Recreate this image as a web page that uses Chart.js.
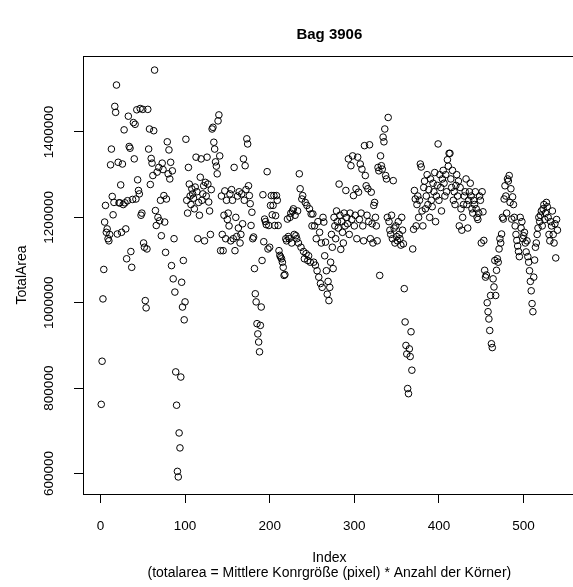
<!DOCTYPE html>
<html>
<head>
<meta charset="utf-8">
<script src="https://cdn.jsdelivr.net/npm/chart.js@4"></script>
<style>
  html, body { margin: 0; padding: 0; background: #fff; overflow: hidden; }
  canvas { display: block; }
</style>
</head>
<body>
<canvas id="chart" width="580" height="587"></canvas>
<script>
const xTicks = [0, 100, 200, 300, 400, 500];
const yTicks = [600000, 800000, 1000000, 1200000, 1400000];

// TotalArea per grain-bag index 1..540
const totalArea = [
    762000, 863000, 1009000, 1078000, 1189000, 1228000, 1165000, 1173000, 1150000, 1145000,
    1160000, 1323000, 1360000, 1249000, 1206000, 1235000, 1460000, 1446000, 1510000, 1161000,
    1329000, 1234000, 1234000, 1276000, 1165000, 1325000, 1230000, 1405000, 1234000, 1173000,
    1103000, 1239000, 1437000, 1366000, 1362000, 1120000, 1083000, 1242000, 1422000, 1337000,
    1418000, 1243000, 1452000, 1288000, 1263000, 1255000, 1455000, 1205000, 1210000, 1453000,
    1140000, 1130000, 1005000, 988000, 1126000, 1453000, 1360000, 1407000, 1277000, 1338000,
    1327000, 1298000, 1403000, 1545000, 1216000, 1181000, 1306000, 1200000, 1317000, 1192000,
    1240000, 1157000, 1327000, 1312000, 1251000, 1189000, 1118000, 1243000, 1377000, 1302000,
    1358000, 1290000, 1329000, 1087000, 1309000, 1056000, 1150000, 1025000, 838000, 760000,
    605000, 592000, 695000, 660000, 826000, 1048000, 990000, 1099000, 960000, 1002000,
    1383000, 1240000, 1210000, 1317000, 1278000, 1250000, 1230000, 1267000, 1255000, 1245000,
    1220000, 1271000, 1341000, 1260000, 1150000, 1235000, 1205000, 1294000, 1337000, 1240000,
    1255000, 1274000, 1145000, 1282000, 1250000, 1341000, 1278000, 1236000, 1215000, 1160000,
    1265000, 1407000, 1411000, 1376000, 1360000, 1330000, 1320000, 1302000, 1426000, 1440000,
    1344000, 1122000, 1250000, 1160000, 1122000, 1205000, 1262000, 1150000, 1240000, 1195000,
    1210000, 1180000, 1255000, 1145000, 1265000, 1240000, 1150000, 1317000, 1122000, 1200000,
    1155000, 1250000, 1175000, 1260000, 1140000, 1160000, 1255000, 1185000, 1337000, 1240000,
    1321000, 1265000, 1384000, 1372000, 1274000, 1251000, 1232000, 1181000, 1212000, 1150000,
    1154000, 1080000, 1021000, 1002000, 951000, 927000, 908000, 885000, 947000, 990000,
    1099000, 1253000, 1143000, 1196000, 1190000, 1183000, 1307000, 1126000, 1181000, 1130000,
    1228000, 1251000, 1206000, 1228000, 1251000, 1181000, 1204000, 1251000, 1240000, 1181000,
    1122000, 1111000, 1107000, 1103000, 1095000, 1083000, 1064000, 1066000, 1150000, 1145000,
    1196000, 1155000, 1150000, 1200000, 1210000, 1140000, 1215000, 1220000, 1160000, 1205000,
    1157000, 1150000, 1215000, 1140000, 1302000, 1267000, 1130000, 1243000, 1251000, 1120000,
    1103000, 1235000, 1115000, 1228000, 1099000, 1110000, 1220000, 1095000, 1208000, 1180000,
    1208000, 1095000, 1180000, 1088000, 1150000, 1075000, 1190000, 1060000, 1165000, 1045000,
    1140000, 1036000, 1200000, 1189000, 1110000, 1142000, 1075000, 1020000, 1050000, 1005000,
    1036000, 1095000, 1160000, 1130000, 1080000, 1200000, 1180000, 1150000, 1215000, 1190000,
    1175000, 1278000, 1205000, 1125000, 1190000, 1165000, 1140000, 1210000, 1180000, 1263000,
    1200000, 1185000, 1337000, 1160000, 1210000, 1321000, 1195000, 1344000, 1251000, 1180000,
    1205000, 1267000, 1150000, 1341000, 1259000, 1195000, 1325000, 1210000, 1313000, 1180000,
    1145000, 1368000, 1298000, 1274000, 1205000, 1267000, 1190000, 1370000, 1150000, 1259000,
    1185000, 1140000, 1228000, 1235000, 1200000, 1180000, 1145000, 1317000, 1309000, 1064000,
    1344000, 1321000, 1313000, 1388000, 1377000, 1407000, 1298000, 1290000, 1200000, 1434000,
    1190000, 1170000, 1160000, 1205000, 1150000, 1286000, 1175000, 1140000, 1180000, 1155000,
    1145000, 1190000, 1160000, 1150000, 1135000, 1200000, 1170000, 1138000, 1033000, 955000,
    900000, 880000, 799000, 787000, 892000, 874000, 932000, 842000, 1126000, 1172000,
    1263000, 1243000, 1180000, 1230000, 1250000, 1200000, 1240000, 1325000, 1318000, 1215000,
    1180000, 1270000, 1285000, 1220000, 1250000, 1300000, 1230000, 1265000, 1200000, 1290000,
    1240000, 1225000, 1280000, 1260000, 1305000, 1190000, 1250000, 1275000, 1372000, 1240000,
    1300000, 1270000, 1215000, 1290000, 1310000, 1280000, 1250000, 1300000, 1260000, 1335000,
    1320000, 1350000, 1350000, 1290000, 1270000, 1310000, 1240000, 1260000, 1230000, 1275000,
    1300000, 1250000, 1285000, 1180000, 1270000, 1220000, 1170000, 1200000, 1230000, 1250000,
    1260000, 1290000, 1230000, 1175000, 1240000, 1260000, 1280000, 1250000, 1220000, 1210000,
    1240000, 1230000, 1260000, 1220000, 1200000, 1195000, 1210000, 1250000, 1240000, 1140000,
    1260000, 1213000, 1146000, 1076000, 1060000, 1065000, 1000000, 979000, 962000, 935000,
    1017000, 904000, 895000, 1056000, 1037000, 1099000, 1017000, 1076000, 1103000, 1095000,
    1126000, 1150000, 1140000, 1161000, 1200000, 1196000, 1243000, 1274000, 1250000, 1210000,
    1290000, 1285000, 1298000, 1235000, 1267000, 1196000, 1248000, 1230000, 1200000, 1180000,
    1160000, 1146000, 1133000, 1120000, 1108000, 1200000, 1175000, 1190000, 1150000, 1157000,
    1165000, 1140000, 1119000, 1145000, 1108000, 1095000, 1075000, 1050000, 1028000, 998000,
    979000, 1060000, 1100000, 1130000, 1140000, 1160000, 1175000, 1200000, 1190000, 1205000,
    1215000, 1180000, 1220000, 1230000, 1195000, 1210000, 1235000, 1225000, 1200000, 1160000,
    1145000, 1190000, 1180000, 1215000, 1160000, 1140000, 1185000, 1105000, 1195000, 1170000
];

const points = totalArea.map((value, i) => ({ x: i + 1, y: value }));

// R-style box around the plot region
const boxPlugin = {
    id: "box",
    afterDraw(chart) {
        const { ctx, chartArea } = chart;
        ctx.save();
        ctx.strokeStyle = "#000";
        ctx.lineWidth = 1;
        ctx.strokeRect(
            Math.round(chartArea.left) + 0.5,
            Math.round(chartArea.top) + 0.5,
            Math.round(chartArea.right - chartArea.left),
            Math.round(chartArea.bottom - chartArea.top)
        );
        ctx.restore();
    }
};

Chart.defaults.font.family = '"Liberation Sans", Arial, sans-serif';
Chart.defaults.color = "#000";

new Chart(document.getElementById("chart"), {
    type: "scatter",
    data: {
        datasets: [{
            data: points,
            xAxisID: "x",
            yAxisID: "y",
            showLine: false,
            pointStyle: "circle",
            pointRadius: 3.3,
            pointHoverRadius: 3.3,
            pointBorderWidth: 1,
            pointBorderColor: "#000",
            pointBackgroundColor: "rgba(0,0,0,0)"
        }]
    },
    options: {
        responsive: false,
        animation: false,
        devicePixelRatio: 1,
        layout: { padding: { left: 0, right: 4, top: 0, bottom: 0 } },
        plugins: {
            legend: { display: false },
            tooltip: { enabled: false },
            title: { display: false }
        },
        scales: {
            x: {
                type: "linear",
                position: "bottom",
                min: -20.56,
                max: 561.56,
                afterBuildTicks: (scale) => { scale.ticks = xTicks.map(v => ({ value: v })); },
                afterFit: (scale) => { scale.height = 93; },
                grid: { display: true, drawOnChartArea: false, drawTicks: true, tickLength: 9, color: "#000" },
                border: { display: false },
                ticks: { padding: 15, autoSkip: false, maxRotation: 0, font: { size: 13.5 }, callback: v => String(v) },
                title: {
                    display: true,
                    text: ["Index", "(totalarea = Mittlere Konrgröße (pixel) * Anzahl der Körner)"],
                    font: { size: 14, lineHeight: 1.05 },
                    padding: { top: 0, bottom: 7 }
                }
            },
            top: {
                type: "linear",
                position: "top",
                min: 0,
                max: 1,
                afterFit: (scale) => { scale.height = 56; },
                grid: { display: false },
                border: { display: false },
                ticks: { display: false },
                title: {
                    display: true,
                    text: "Bag 3906",
                    font: { size: 15, weight: "bold" },
                    padding: { top: 26, bottom: 0 }
                }
            },
            y: {
                type: "linear",
                position: "left",
                min: 552000,
                max: 1578000,
                afterBuildTicks: (scale) => { scale.ticks = yTicks.map(v => ({ value: v })); },
                afterFit: (scale) => { scale.width = 83; },
                grid: { display: true, drawOnChartArea: false, drawTicks: true, tickLength: 9, color: "#000" },
                border: { display: false },
                ticks: {
                    minRotation: 90,
                    maxRotation: 90,
                    crossAlign: "center",
                    padding: -2,
                    autoSkip: false,
                    font: { size: 13.5 },
                    callback: v => String(v)
                },
                title: {
                    display: true,
                    text: "TotalArea",
                    font: { size: 14 },
                    padding: { top: 14, bottom: 0 }
                }
            }
        }
    },
    plugins: [boxPlugin]
});
</script>
</body>
</html>
